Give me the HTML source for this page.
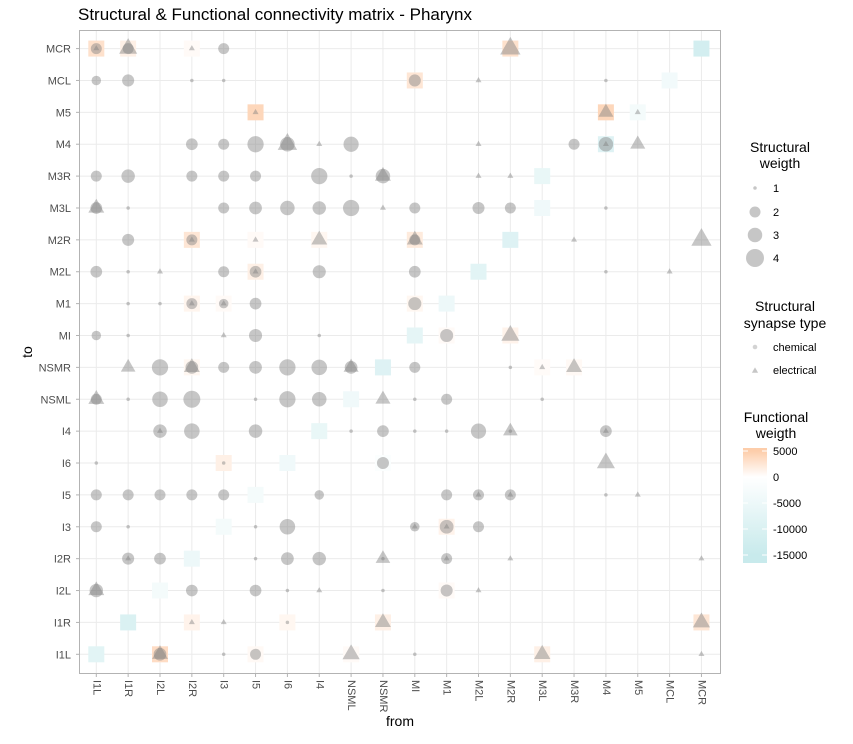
<!DOCTYPE html>
<html><head><meta charset="utf-8"><style>
body{margin:0;background:#fff;}
svg text{font-family:"Liberation Sans",Arial,sans-serif;}
</style></head><body>
<svg id="chart" width="853" height="739" xmlns="http://www.w3.org/2000/svg">
<rect width="853" height="739" fill="#fff"/>
<text x="78" y="20" font-size="17" fill="#000">Structural &amp; Functional connectivity matrix - Pharynx</text>
<g id="grid"></g>
<g id="func"></g>
<g id="struct"></g>
<rect x="79.5" y="30.5" width="641" height="643" fill="none" stroke="#b3b3b3" stroke-width="1"/>
<g id="axes"></g>
<text x="400" y="726" font-size="14" text-anchor="middle">from</text>
<text x="32" y="352" font-size="14" text-anchor="middle" transform="rotate(-90 32 352)">to</text>
<g id="legend"></g>
</svg>
<script>
const categories = ["I1L","I1R","I2L","I2R","I3","I5","I6","I4","NSML","NSMR","MI","M1","M2L","M2R","M3L","M3R","M4","M5","MCL","MCR"];
const sFrom = ["I1L","I1L","I1R","I1R","I2R","I3","M2R",
"I1L","I1R","I2R","I3","MI","M2L","M4",
"I5","M4","M5",
"I2R","I3","I5","I6","I6","I4","NSML","M2L","M3R","M4","M4","M5",
"I1L","I1R","I2R","I3","I5","I4","NSML","NSMR","NSMR","M2L","M2R",
"I1L","I1L","I1R","I3","I5","I6","I4","NSML","NSMR","MI","M2L","M2R","M4",
"I1R","I2R","I2R","I5","I4","MI","MI","M3R","MCR",
"I1L","I1R","I2L","I3","I5","I5","I4","MI","M4","MCL",
"I1R","I2L","I2R","I2R","I3","I3","I5","MI",
"I1L","I1R","I3","I5","I4","M1","M2R",
"I1R","I2L","I2R","I2R","I3","I5","I6","I4","NSML","NSML","MI","M2R","M3L","M3R",
"I1L","I1L","I1R","I2L","I2R","I5","I6","I4","NSMR","MI","M1","M3L",
"I2L","I2L","I2R","I5","NSML","NSMR","MI","M1","M2L","M2R","M2R","M4","M4",
"I1L","I3","NSMR","M4",
"I1L","I1R","I2L","I2R","I3","I4","M1","M2L","M2L","M2R","M2R","M4","M5",
"I1L","I1R","I5","I6","MI","MI","M1","M1","M2L",
"I1R","I1R","I2L","I5","I6","I4","NSMR","NSMR","M1","M1","M2R","MCR",
"I1L","I1L","I2R","I5","I6","I4","NSMR","M1","M2L",
"I2R","I3","I6","NSMR","MCR",
"I2L","I2L","I3","I5","NSML","MI","M3L","MCR"];
const sTo = ["MCR","MCR","MCR","MCR","MCR","MCR","MCR",
"MCL","MCL","MCL","MCL","MCL","MCL","MCL",
"M5","M5","M5",
"M4","M4","M4","M4","M4","M4","M4","M4","M4","M4","M4","M4",
"M3R","M3R","M3R","M3R","M3R","M3R","M3R","M3R","M3R","M3R","M3R",
"M3L","M3L","M3L","M3L","M3L","M3L","M3L","M3L","M3L","M3L","M3L","M3L","M3L",
"M2R","M2R","M2R","M2R","M2R","M2R","M2R","M2R","M2R",
"M2L","M2L","M2L","M2L","M2L","M2L","M2L","M2L","M2L","M2L",
"M1","M1","M1","M1","M1","M1","M1","M1",
"MI","MI","MI","MI","MI","MI","MI",
"NSMR","NSMR","NSMR","NSMR","NSMR","NSMR","NSMR","NSMR","NSMR","NSMR","NSMR","NSMR","NSMR","NSMR",
"NSML","NSML","NSML","NSML","NSML","NSML","NSML","NSML","NSML","NSML","NSML","NSML",
"I4","I4","I4","I4","I4","I4","I4","I4","I4","I4","I4","I4","I4",
"I6","I6","I6","I6",
"I5","I5","I5","I5","I5","I5","I5","I5","I5","I5","I5","I5","I5",
"I3","I3","I3","I3","I3","I3","I3","I3","I3",
"I2R","I2R","I2R","I2R","I2R","I2R","I2R","I2R","I2R","I2R","I2R","I2R",
"I2L","I2L","I2L","I2L","I2L","I2L","I2L","I2L","I2L",
"I1R","I1R","I1R","I1R","I1R",
"I1L","I1L","I1L","I1L","I1L","I1L","I1L","I1L"];
const sWeight = [2,1,2,3,1,2,3.5,
1.8,2.3,1,1,2.3,1,1,
1,2.3,1,
2.2,2,3.5,3,3.3,1,3.2,1,2,3,1,2.3,
2,2.7,2,2,2,3.5,1,3,2.5,1,1,
2.2,2.5,1,2,2.5,3,2.7,3.5,1,2,2.3,2,1,
2.3,2,1,1,2.5,2.5,2,1,3.5,
2.2,1,1,2,2.2,1,2.6,2.2,1,1,
1,1,2,1,1.8,1,2.2,2.6,
1.8,1,1,2.6,1,2.6,3,
2.2,3.5,2.5,2.5,2,2.5,3.5,3.3,2.5,2.3,2,1,1,2.5,
2.5,2,1,3.3,3.7,1,3.5,3,2.3,1,2,1,
2.7,1,3.3,2.7,1,2.2,1,1,3.2,2.2,1,2.2,1,
1,1,2.3,3,
2,2,2,2,2,1.8,2,2,1,2,1,1,1,
2,1,1,3.3,1.8,1,2.8,1,2,
2.3,1,2.2,1,2.5,2.7,2.2,1,2,1,1,1,
2.7,2.5,2.2,2.2,1,1,1,2.3,1,
1,1,1,2.5,2.8,
2.5,2.5,1,2,2.8,1,2.6,1];
const sType = ["c","e","c","e","e","c","e",
"c","c","c","c","c","e","c",
"e","e","e",
"c","c","c","c","e","e","c","e","c","c","e","e",
"c","c","c","c","c","c","c","c","e","e","e",
"c","e","c","c","c","c","c","c","e","c","c","c","c",
"c","c","e","e","e","e","c","e","e",
"c","c","e","c","c","e","c","c","c","e",
"c","c","c","e","c","e","c","c",
"c","c","e","c","c","c","e",
"e","c","c","e","c","c","c","c","c","e","c","c","e","e",
"e","c","c","c","c","c","c","c","e","c","c","c",
"c","e","c","c","c","c","c","c","c","e","c","c","e",
"c","c","c","e",
"c","c","c","c","c","c","c","c","e","c","e","c","e",
"c","c","c","c","c","e","c","e","c",
"c","e","c","c","c","c","e","c","c","e","e","e",
"c","e","c","c","c","e","c","c","e",
"e","e","c","e","e",
"c","e","c","c","e","c","e","e"];
const fFrom = ["I1L","I1R","I2R","M2R","MCR","MI","MCL","I5","M4","M5","M4","M3L","M3L","I2R","I5","I4","MI","M2R","I5","M2L","I2R","I3","MI","M1","MI","M2R","M1","I2R","NSMR","M3L","M3R","NSML","I4","I3","I6","NSMR","I5","I3","M1","I2R","I2L","M1","I1R","I2R","I6","NSMR","MCR","I1L","I2L","I5","NSML","M3L"];
const fTo = ["MCR","MCR","MCR","MCR","MCR","MCL","MCL","M5","M5","M5","M4","M3R","M3L","M2R","M2R","M2R","M2R","M2R","M2L","M2L","M1","M1","M1","M1","MI","MI","MI","NSMR","NSMR","NSMR","NSMR","NSML","I4","I6","I6","I6","I5","I3","I3","I2R","I2L","I2L","I1R","I1R","I1R","I1R","I1R","I1L","I1L","I1L","I1L","I1L"];
const fValue = [3000,1500,500,3000,-12000,2500,-3500,4000,4000,-3000,-9000,-6000,-4000,2500,500,800,2000,-9000,1500,-8000,1000,500,800,-5000,-7000,1200,500,800,-9000,400,600,-4000,-6000,1500,-4000,-1000,-3000,-3000,1200,-5000,-3000,500,-10000,1200,800,1500,2500,-8000,3500,600,500,1500];
const legendWeights = [1,2,3,4];
const fillTicks = [5000,0,-5000,-10000,-15000];

const NS="http://www.w3.org/2000/svg";
function mk(tag,attrs,parent){const e=document.createElementNS(NS,tag);for(const k in attrs)e.setAttribute(k,attrs[k]);parent.appendChild(e);return e;}
const X0=96.3, STEP=31.85, Y0=654.3, YSTEP=31.88;
function xPos(c){return X0+categories.indexOf(c)*STEP;}
function yPos(c){return Y0-categories.indexOf(c)*YSTEP;}
function diam(w){const p=[[1,3.5],[2,11],[3,14.5],[4,18]];if(w<=1)return 3.5;for(let i=1;i<p.length;i++){if(w<=p[i][0]){const t=(w-p[i-1][0])/(p[i][0]-p[i-1][0]);return p[i-1][1]+t*(p[i][1]-p[i-1][1]);}}return 18;}
function fcol(v){let c;if(v>=0){const t=Math.min(v/5000,1);c=[255-2*t,255-50*t,255-85*t];}else{const t=Math.min(-v/15000,1);c=[255-55*t,255-21*t,255-19*t];}return `rgb(${c.map(Math.round).join(",")})`;}
function yPix(v){return 451+(5000-v)/5000*26;}

const grid=document.getElementById('grid'),axes=document.getElementById('axes');
categories.forEach(c=>{
  const x=xPos(c),y=yPos(c);
  const gv=mk('line',{x1:x,x2:x,y1:31,y2:673,stroke:'#ebebeb','stroke-width':1},grid);
  
  
  const gh=mk('line',{x1:80,x2:720,y1:y,y2:y,stroke:'#ebebeb','stroke-width':1},grid);
  
  
  const tx=mk('line',{x1:x,x2:x,y1:674,y2:677,stroke:'#b3b3b3'},axes);
  
  
  const ty=mk('line',{x1:76,x2:79,y1:y,y2:y,stroke:'#b3b3b3'},axes);
  
  
  const lx=mk('text',{x:0,y:0,'font-size':11,fill:'#4d4d4d','dominant-baseline':'central',transform:`translate(${x} 680) rotate(90)`},axes);
  lx.textContent=c;
  
  
  const ly=mk('text',{x:71,y:y+4,'font-size':11,fill:'#4d4d4d','text-anchor':'end'},axes);
  ly.textContent=c;
  
  
});
const func=document.getElementById('func');
fValue.forEach((v,i)=>{
  const x=xPos(fFrom[i]),y=yPos(fTo[i]);
  const r=mk('rect',{x:x-8,y:y-8,width:16,height:16,fill:fcol(v)},func);
  
  
});
const st=document.getElementById('struct');
function tri(x,y,d,parent){const s=Math.max(d*1.25,6);const h=s*0.866;return mk('polygon',{points:`${x-s/2},${y+h/3} ${x+s/2},${y+h/3} ${x},${y-2*h/3}`,fill:'rgba(128,128,128,0.45)'},parent);}
sWeight.forEach((w,i)=>{
  if(sFrom[i]===undefined||sTo[i]===undefined)return;
  const x=xPos(sFrom[i]),y=yPos(sTo[i]),d=diam(w);
  let e;
  if(sType[i]==='c'){e=mk('circle',{cx:x,cy:y,r:d/2,fill:'rgba(128,128,128,0.45)'},st);}
  else{e=tri(x,y,d,st);}
  
  
});
const lg=document.getElementById('legend');
function t(x,y,s,txt,anchor,fs,nm){const e=mk('text',{x:x,y:y,'font-size':fs,'text-anchor':anchor||'start',fill:'#000'},lg);e.textContent=txt;return e;}
t(780,152,0,'Structural','middle',14,'legend-title');
t(780,168,0,'weigth','middle',14,'legend-title');
const lwY=[188,212,235,258];
legendWeights.forEach((w,i)=>{
  const c=mk('circle',{cx:755,cy:lwY[i],r:diam(w)/2,fill:'rgba(128,128,128,0.45)'},lg);
  
  
  t(773,lwY[i]+4,0,String(w),'start',11,'legend-label');
});
t(785,311,0,'Structural','middle',14,'legend-title');
t(785,328,0,'synapse type','middle',14,'legend-title');
const lc=mk('circle',{cx:755,cy:347,r:2.3,fill:'rgba(128,128,128,0.35)'},lg);


t(773,351,0,'chemical','start',11,'legend-label');
const lt=tri(755,371,5,lg);


t(773,374,0,'electrical','start',11,'legend-label');
t(776,422,0,'Functional','middle',14,'legend-title');
t(776,438,0,'weigth','middle',14,'legend-title');
const defs=mk('defs',{},lg);
const gr=mk('linearGradient',{id:'fg',x1:0,y1:0,x2:0,y2:1},defs);
const gTop=448,gBot=563;
[5000,2500,0,-5000,-10000,-15000].forEach(v=>{mk('stop',{offset:Math.max(0,(yPix(v)-gTop)/(gBot-gTop)).toFixed(3),'stop-color':fcol(v)},gr);});
mk('stop',{offset:1,'stop-color':fcol(-16500)},gr);
const bar=mk('rect',{x:743,y:gTop,width:24,height:gBot-gTop,fill:'url(#fg)'},lg);


fillTicks.forEach(v=>{
  const y=yPix(v);
  const a=mk('line',{x1:743,x2:748,y1:y,y2:y,stroke:'#fff'},lg);
  
  
  const b=mk('line',{x1:762,x2:767,y1:y,y2:y,stroke:'#fff'},lg);
  
  
  t(773,y+4,0,String(v),'start',11,'colorbar-label');
});
</script>
</body></html>
